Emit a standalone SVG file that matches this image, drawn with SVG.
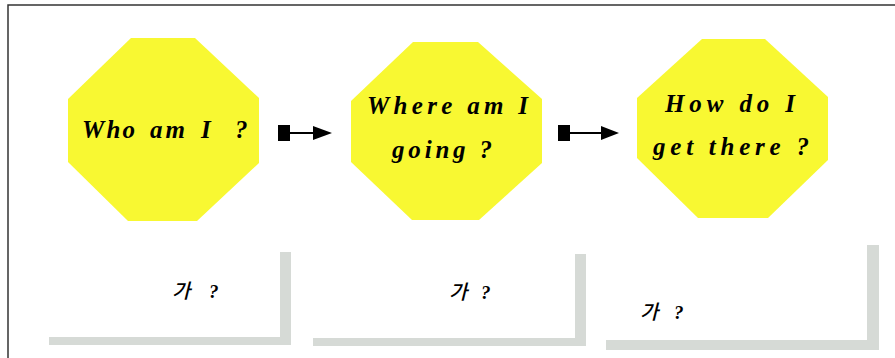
<svg xmlns="http://www.w3.org/2000/svg" width="895" height="358" viewBox="0 0 895 358">
  <defs>
    <style>
      .stop { fill: #f8f832; stroke: none; }
      .q { font-family: "Liberation Serif", "Times New Roman", serif; font-weight: bold; font-style: italic; font-size: 25px; fill: #000; }
      .ko { font-family: "Noto Sans CJK KR", sans-serif; font-size: 20px; font-weight: 500; fill: #000; }
      .qm { font-family: "Liberation Serif", "Times New Roman", serif; font-style: italic; font-weight: bold; font-size: 19px; fill: #000; }
      .shadow { fill: #d6dad6; stroke: none; }
      .link { stroke: #000; stroke-width: 2; fill: none; }
    </style>
  </defs>

  <rect x="0" y="0" width="895" height="358" fill="#fff"/>
  <!-- outer frame, open on the right and bottom -->
  <rect x="8" y="5" width="900" height="370" fill="none" stroke="#333" stroke-width="1.5"/>

  <g id="node-who">
    <polygon class="stop" points="131,38 195,38 259,98 259,163 197,221 128,221 68,162 68,99"/>
    <text class="q" y="138"><tspan x="82" textLength="53" lengthAdjust="spacing">Who</tspan><tspan x="150" textLength="35" lengthAdjust="spacing">am</tspan><tspan x="201">I</tspan><tspan x="235">?</tspan></text>
  </g>

  <g id="node-where">
    <polygon class="stop" points="413,42 478,42 542,99 542,163 479,220 412,220 351,162 351,101"/>
    <text class="q" x="367" y="114" textLength="161" lengthAdjust="spacing">Where am I</text>
    <text class="q" x="392" y="158" textLength="100" lengthAdjust="spacing">going ?</text>
  </g>

  <g id="node-how">
    <polygon class="stop" points="702,39 765,39 828,97 828,160 768,218 698,218 637,158 637,98"/>
    <text class="q" x="665" y="112" textLength="130" lengthAdjust="spacing">How do I</text>
    <text class="q" x="653" y="155" textLength="156" lengthAdjust="spacing">get there ?</text>
  </g>

  <g id="connectors">
    <g id="link-1">
      <rect x="278" y="125" width="12" height="16" fill="#000"/>
      <line class="link" x1="290" y1="133" x2="314" y2="133"/>
      <path d="M313,126 L332,133 L313,140 Z" fill="#000"/>
    </g>
    <g id="link-2">
      <rect x="558" y="125" width="12" height="16" fill="#000"/>
      <line class="link" x1="570" y1="133" x2="602" y2="133"/>
      <path d="M601,126 L619,133 L601,140 Z" fill="#000"/>
    </g>
  </g>

  <g id="box-1">
    <rect class="shadow" x="280" y="252" width="11" height="93"/>
    <rect class="shadow" x="49" y="337" width="242" height="8"/>
    <text class="ko" transform="translate(172,298) skewX(-14)">가</text>
    <text class="qm" x="209" y="298">?</text>
  </g>

  <g id="box-2">
    <rect class="shadow" x="575" y="254" width="11" height="92"/>
    <rect class="shadow" x="313" y="338" width="273" height="8"/>
    <text class="ko" transform="translate(449,299) skewX(-14)">가</text>
    <text class="qm" x="481" y="299">?</text>
  </g>

  <g id="box-3">
    <rect class="shadow" x="867" y="245" width="12" height="105"/>
    <rect class="shadow" x="606" y="340" width="273" height="10"/>
    <text class="ko" transform="translate(640,319) skewX(-14)">가</text>
    <text class="qm" x="674" y="319">?</text>
  </g>
</svg>
